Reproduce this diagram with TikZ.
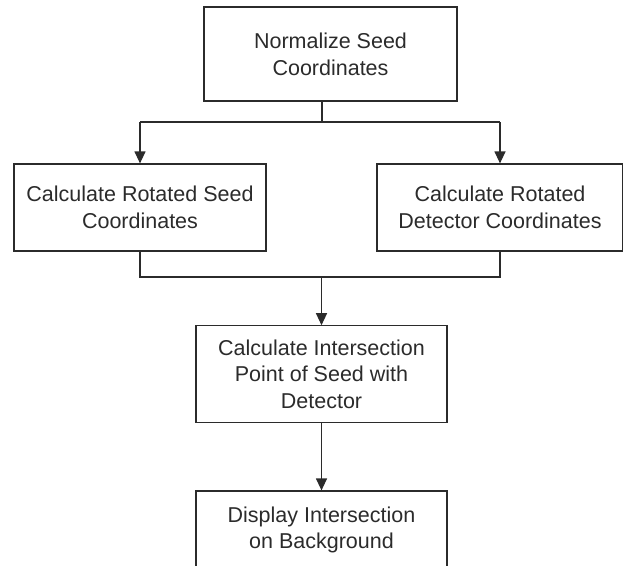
\documentclass[tikz,border=0pt]{standalone}
\usepackage{fontspec}
\setmainfont{Liberation Sans}
\usetikzlibrary{arrows.meta}
\definecolor{ink}{HTML}{2B2B2B}
\begin{document}
\begin{tikzpicture}[x=1pt,y=-1pt,
  stepbox/.style={draw=ink, line width=1.2pt, align=center, text=ink,
    inner sep=0pt, font=\fontsize{21.5}{26.7}\selectfont},
  link/.style={draw=ink, line width=1.2pt},
  flow/.style={link, -{Triangle[width=11pt,length=12pt]}}]
\useasboundingbox (0,0) rectangle (623,565);
\clip (0,0) rectangle (623,565);

% process boxes
\node[stepbox, minimum width=253pt, minimum height=94pt] (norm) at (330.5,54) {Normalize Seed\\Coordinates};
\node[stepbox, minimum width=252pt, minimum height=87pt] (rseed) at (140,207.5) {Calculate Rotated Seed\\Coordinates};
\node[stepbox, minimum width=246pt, minimum height=87pt] (rdet) at (500,207.5) {Calculate Rotated\\Detector Coordinates};
\node[stepbox, minimum width=251pt, minimum height=97pt] (isect) at (321.5,374.3) {Calculate Intersection\\Point of Seed with\\Detector};
% the last box runs off the lower edge of the page
\node[stepbox, minimum width=251pt, minimum height=78pt] (show) at (321.5,530) {Display Intersection\\on Background};

% junction points
\coordinate (nstem) at (norm.south -| 322,0);
\coordinate (split) at (322,122);
\coordinate (splitL) at (rseed.north |- split);
\coordinate (splitR) at (rdet.north |- split);
\coordinate (joinL) at (rseed.south |- 0,277);
\coordinate (joinR) at (rdet.south |- 0,277);
\coordinate (join) at (isect.north |- 0,277);

% connectors
\draw[link] (nstem) -- (split);
\draw[link] (splitL) -- (splitR);
\draw[flow] (splitL) -- (rseed.north);
\draw[flow] (splitR) -- (rdet.north);
\draw[link] (rseed.south) -- (joinL) -- (joinR) -- (rdet.south);
\draw[flow] (join) -- (isect.north);
\draw[flow] (isect.south) -- (show.north);
\end{tikzpicture}
\end{document}
